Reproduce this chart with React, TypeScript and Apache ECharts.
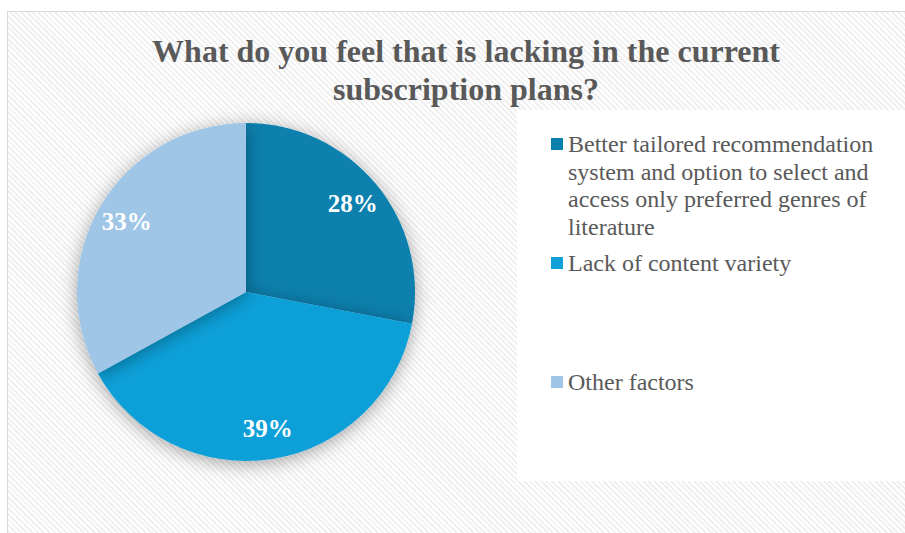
import React, { useEffect, useRef } from "react";
import * as echarts from "echarts";

const titleLines = ["What do you feel that is lacking in the current", "subscription plans?"];
const categories = [
  "Better tailored recommendation\nsystem and option to select and\naccess only preferred genres of\nliterature",
  "Lack of content variety",
  "Other factors",
];
const values = [28, 39, 33];
const colors = ["#0a80ae", "#11a0d8", "#9fc6e6"];
const legendTops = [138, 257, 376];

export default function App() {
  const ref = useRef<HTMLDivElement>(null);
  useEffect(() => {
    if (!ref.current) return;
    const chart = echarts.init(ref.current, null, { renderer: "svg" });
    const font = "'Liberation Serif', 'Times New Roman', serif";
    const data = categories.map((c, i) => ({ name: c, value: values[i], itemStyle: { color: colors[i] } }));
    const legendGraphics: any[] = [];
    categories.forEach((c, i) => {
      legendGraphics.push({
        type: "rect",
        shape: { x: 551, y: legendTops[i], width: 12, height: 12 },
        style: { fill: colors[i] },
        z: 10,
      });
      legendGraphics.push({
        type: "text",
        x: 568,
        y: legendTops[i] - 8,
        style: {
          text: c,
          font: `24px ${font}`,
          fill: "#595959",
          lineHeight: 27.7,
          textVerticalAlign: "top",
        },
        z: 10,
      });
    });
    chart.setOption({
      animation: false,
      title: {
        text: titleLines.join("\n"),
        left: 461,
        top: 27,
        textAlign: "center",
        textStyle: {
          fontFamily: font,
          fontSize: 32,
          fontWeight: "bold",
          color: "#595959",
          lineHeight: 38,
        },
      },
      graphic: [
        {
          type: "rect",
          shape: { x: 517, y: 110, width: 400, height: 371 },
          style: { fill: "#ffffff" },
          z: 1,
        },
        ...legendGraphics,
      ],
      series: [
        {
          type: "pie",
          center: [246, 292],
          radius: [0, 169],
          startAngle: 90,
          clockwise: true,
          label: { show: false },
          labelLine: { show: false },
          itemStyle: {
            borderWidth: 0,
            shadowBlur: 18,
            shadowColor: "rgba(0,0,0,0.35)",
            shadowOffsetX: 0,
            shadowOffsetY: 3,
          },
          emphasis: { disabled: true },
          silent: true,
          data,
        },
        {
          type: "pie",
          center: [246, 292],
          radius: [102, 169],
          startAngle: 90,
          clockwise: true,
          silent: true,
          emphasis: { disabled: true },
          itemStyle: { color: "transparent", borderWidth: 0 },
          label: {
            show: true,
            position: "inside",
            formatter: (p: any) => `${p.value}%`,
            fontFamily: font,
            fontSize: 25,
            fontWeight: "bold",
            color: "#ffffff",
          },
          labelLine: { show: false },
          data: categories.map((c, i) => ({ name: c, value: values[i] })),
        },
      ],
    });
    return () => chart.dispose();
  }, []);
  return (
    <div style={{ position: "fixed", left: 0, top: 0, width: 905, height: 533, background: "#ffffff", overflow: "hidden" }}>
      <div
        style={{
          position: "absolute",
          left: 7,
          top: 11,
          width: 910,
          height: 540,
          border: "1px solid #d9d9d9",
          background: "repeating-linear-gradient(45deg, #ffffff 0px, #ffffff 2px, #f0f0f0 2px, #f0f0f0 4px)",
        }}
      />
      <div ref={ref} style={{ position: "absolute", left: 0, top: 0, width: 905, height: 533 }} />
    </div>
  );
}
